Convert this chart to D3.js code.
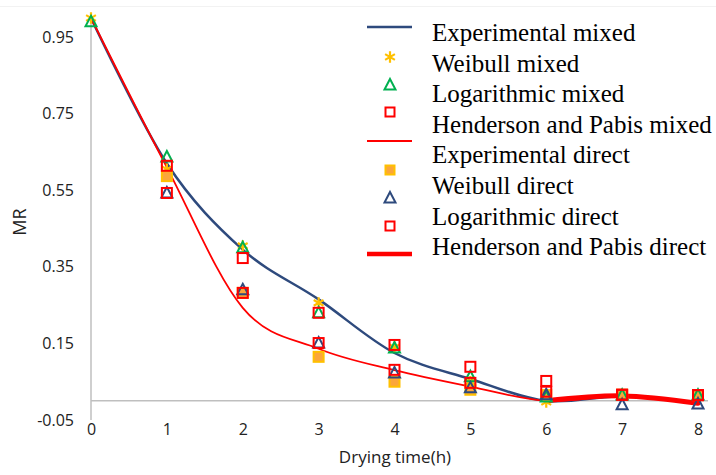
<!DOCTYPE html>
<html>
<head>
<meta charset="utf-8">
<script src="https://cdn.jsdelivr.net/npm/d3@7"></script>
<style>
  body { margin: 0; background: #fff; }
  svg { display: block; }
</style>
</head>
<body>
<div id="chart"></div>
<script>
// drying hours and MR values
var hours = [0, 1, 2, 3, 4, 5, 6, 7, 8];
var expMixed = [1.0, 0.62, 0.395, 0.265, 0.125, 0.057, 0.0, 0.012, -0.005];
var weibullMixed = [1.0, 0.605, 0.405, 0.256, 0.14, 0.05, -0.003, 0.015, 0.015];
var logMixed = [0.99, 0.637, 0.40, 0.23, 0.138, 0.063, 0.01, 0.015, 0.015];
var hpMixed = [null, 0.614, 0.373, 0.23, 0.146, 0.089, 0.052, 0.016, 0.015];
var expDirectLine = [1.0, 0.61, 0.243, 0.136, 0.08, 0.037, 0.0, 0.012, -0.005];
var expDirect = [null, 0.587, 0.282, 0.115, 0.05, 0.029, 0.015, 0.016, 0.015];
var weibullDirect = [null, 0.543, 0.29, 0.151, 0.073, 0.034, 0.016, -0.01, -0.008];
var logDirect = [null, 0.543, 0.282, 0.151, 0.081, 0.047, 0.024, 0.016, 0.015];
var hpDirectHours = [6, 7, 8];
var hpDirect = [0.0, 0.013, -0.006];

var yTicks = [-0.05, 0.15, 0.35, 0.55, 0.75, 0.95];
var xTicks = [0, 1, 2, 3, 4, 5, 6, 7, 8];

var legendItems = ["Experimental mixed", "Weibull mixed", "Logarithmic mixed",
  "Henderson and Pabis mixed", "Experimental direct", "Weibull direct",
  "Logarithmic direct", "Henderson and Pabis direct"];

var W = 716, H = 475;
var BLUE = "#2E4A7D", RED = "#FF0000", GREEN = "#00B050", GOLD = "#FFC000";

var svg = d3.select("#chart").append("svg").attr("width", W).attr("height", H);

var x = d3.scaleLinear().domain([0, 8]).range([91, 698]);
var y = d3.scaleLinear().domain([-0.05, 1.0]).range([420, 18]);

// faint frame line at the top
svg.append("line").attr("x1", 0).attr("x2", W).attr("y1", 6.5).attr("y2", 6.5)
  .attr("stroke", "#f2f2f2").attr("stroke-width", 1);

// axes (no ticks, just gray lines + labels)
svg.append("line").attr("x1", x(0)).attr("x2", x(0)).attr("y1", y(1.0)).attr("y2", y(-0.05))
  .attr("stroke", "#BFBFBF").attr("stroke-width", 1.5);
svg.append("line").attr("x1", x(0)).attr("x2", 708).attr("y1", y(0)).attr("y2", y(0))
  .attr("stroke", "#BFBFBF").attr("stroke-width", 1.5);

var yAxis = d3.axisLeft(y).tickValues(yTicks).tickSize(0).tickPadding(17)
  .tickFormat(function(d) { return d.toFixed(2); });
var gy = svg.append("g").attr("transform", "translate(" + x(0) + ",0)").call(yAxis);
gy.select(".domain").remove();
gy.selectAll("text").attr("font-family", "Open Sans").attr("font-size", 16).attr("fill", "#222");

var xAxis = d3.axisBottom(x).tickValues(xTicks).tickSize(0).tickPadding(0).tickFormat(d3.format("d"));
var gx = svg.append("g").attr("transform", "translate(0,420)").call(xAxis);
gx.select(".domain").remove();
gx.selectAll("text").attr("dy", null).attr("y", 15).attr("font-family", "Open Sans")
  .attr("font-size", 16).attr("fill", "#222");

svg.append("text").attr("x", 395).attr("y", 463).attr("text-anchor", "middle")
  .attr("font-family", "Open Sans").attr("font-size", 17).attr("fill", "#222").text("Drying time(h)");
svg.append("text").attr("transform", "translate(26,222) rotate(-90)").attr("text-anchor", "middle")
  .attr("font-family", "Open Sans").attr("font-size", 18).attr("fill", "#222").text("MR");

function pts(xs, ys) {
  var out = [];
  for (var i = 0; i < xs.length; i++) {
    if (ys[i] !== null) out.push([xs[i], ys[i]]);
  }
  return out;
}

var line = d3.line().x(function(d) { return x(d[0]); }).y(function(d) { return y(d[1]); })
  .curve(d3.curveCatmullRom.alpha(0));

svg.append("path").attr("d", line(pts(hours, expMixed))).attr("fill", "none")
  .attr("stroke", BLUE).attr("stroke-width", 2.5);
svg.append("path").attr("d", line(pts(hours, expDirectLine))).attr("fill", "none")
  .attr("stroke", RED).attr("stroke-width", 1.8);
svg.append("path").attr("d", line(pts(hpDirectHours, hpDirect))).attr("fill", "none")
  .attr("stroke", RED).attr("stroke-width", 5).attr("stroke-linecap", "round");

// marker shapes
function triPath(cx, cy) {
  return "M" + cx + "," + (cy - 6) + "L" + (cx + 5.5) + "," + (cy + 4.5) + "L" + (cx - 5.5) + "," + (cy + 4.5) + "Z";
}
function star(g, cx, cy) {
  g.append("path").attr("transform", "translate(" + cx + "," + cy + ")")
    .attr("d", d3.symbol().type(d3.symbolAsterisk).size(90)())
    .attr("fill", "none").attr("stroke", GOLD).attr("stroke-width", 2.2);
}
function square(g, cx, cy, fill, stroke, s) {
  g.append("rect").attr("x", cx - s / 2).attr("y", cy - s / 2).attr("width", s).attr("height", s)
    .attr("fill", fill).attr("stroke", stroke).attr("stroke-width", 2);
}
function tri(g, cx, cy, col) {
  g.append("path").attr("d", triPath(cx, cy)).attr("fill", "none").attr("stroke", col).attr("stroke-width", 2);
}

var marks = svg.append("g");
pts(hours, weibullMixed).forEach(function(p) { star(marks, x(p[0]), y(p[1])); });
pts(hours, expDirect).forEach(function(p) { square(marks, x(p[0]), y(p[1]), "#FBA63A", "#FFC000", 10); });
pts(hours, logMixed).forEach(function(p) { tri(marks, x(p[0]), y(p[1]), GREEN); });
pts(hours, weibullDirect).forEach(function(p) { tri(marks, x(p[0]), y(p[1]), BLUE); });
pts(hours, hpMixed).forEach(function(p) { square(marks, x(p[0]), y(p[1]), "none", RED, 10); });
pts(hours, logDirect).forEach(function(p) { square(marks, x(p[0]), y(p[1]), "none", RED, 10); });

// legend (icons and labels are staggered as in the source figure)
var lg = svg.append("g");
var iconX = 390;
lg.append("line").attr("x1", 367).attr("x2", 412).attr("y1", 27).attr("y2", 27).attr("stroke", BLUE).attr("stroke-width", 2.5);
star(lg, iconX, 57);
tri(lg, iconX, 85, GREEN);
square(lg, iconX, 112, "none", RED, 9);
lg.append("line").attr("x1", 367).attr("x2", 412).attr("y1", 141).attr("y2", 141).attr("stroke", RED).attr("stroke-width", 1.8);
square(lg, iconX, 170, "#FBA63A", "#FFC000", 9);
tri(lg, iconX, 198, BLUE);
square(lg, iconX, 226, "none", RED, 9);
lg.append("line").attr("x1", 367).attr("x2", 412).attr("y1", 254).attr("y2", 254).attr("stroke", RED).attr("stroke-width", 4.5);

lg.selectAll("text.lab").data(legendItems).enter().append("text").attr("class", "lab")
  .attr("x", 432).attr("y", function(d, i) { return 41 + i * 30.6; })
  .attr("font-family", "Liberation Serif").attr("font-size", 25).attr("fill", "#000")
  .text(function(d) { return d; });
</script>
</body>
</html>
